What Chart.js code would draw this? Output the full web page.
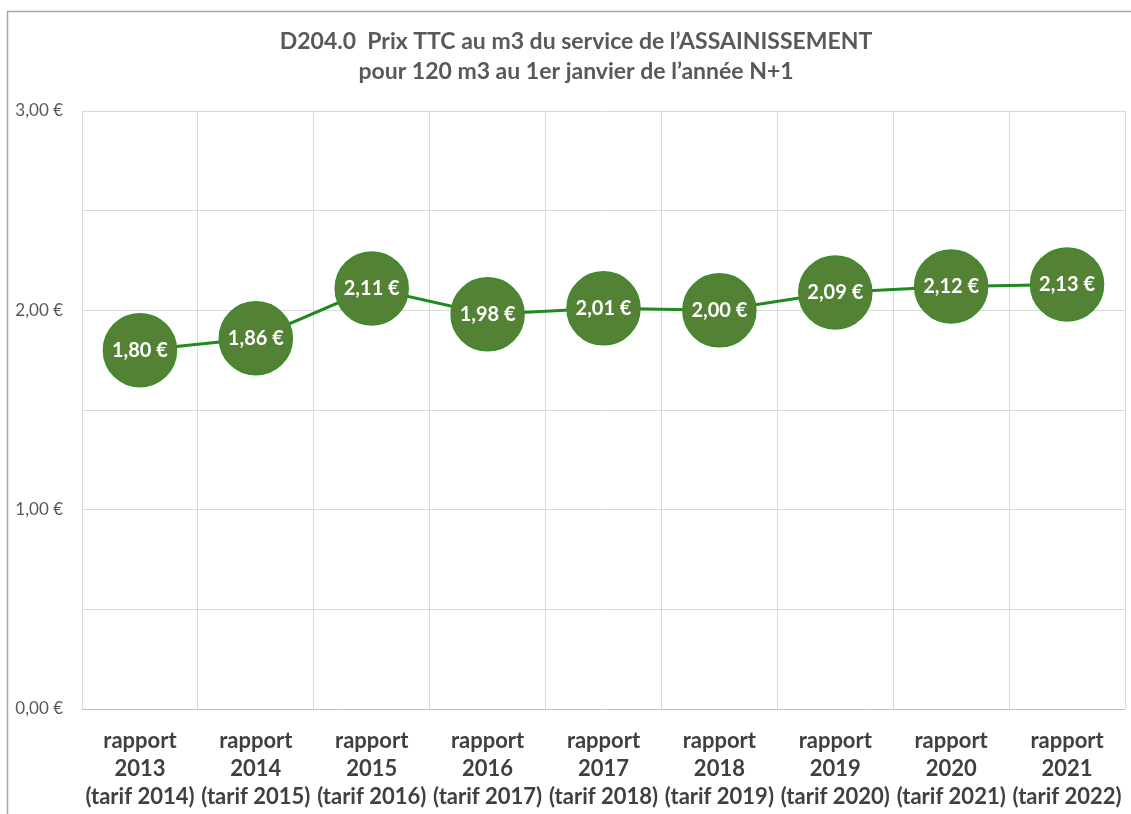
<!DOCTYPE html>
<html lang="fr">
<head>
<meta charset="utf-8">
<script src="https://cdn.jsdelivr.net/npm/chart.js@4.4.1/dist/chart.umd.min.js"></script>
<style>
  html, body { margin: 0; padding: 0; background: #fff; }
  #wrap { position: relative; width: 1131px; height: 814px; }
</style>
</head>
<body>
<div id="wrap"><canvas id="chart"></canvas></div>
<script>
// données
const rapports = ['2013', '2014', '2015', '2016', '2017', '2018', '2019', '2020', '2021'];
const tarifs = ['2014', '2015', '2016', '2017', '2018', '2019', '2020', '2021', '2022'];
const prix = [1.80, 1.86, 2.11, 1.98, 2.01, 2.00, 2.09, 2.12, 2.13];
const titre = ['D204.0  Prix TTC au m3 du service de l\u2019ASSAINISSEMENT', 'pour 120 m3 au 1er janvier de l\u2019ann\u00e9e N+1'];

const labels = rapports.map((r, i) => ['rapport', r, '(tarif ' + tarifs[i] + ')']);
const euro = v => v.toFixed(2).replace('.', ',') + ' \u20ac';

// cadre gris + titre (centré sur le graphique d'origine, plus large que l'image)
const cadre = {
    id: 'cadre',
    beforeDraw(chart) {
        const ctx = chart.ctx;
        ctx.save();
        ctx.strokeStyle = '#a6a6a6';
        ctx.lineWidth = 1.5;
        ctx.beginPath();
        ctx.moveTo(7.5, 814);
        ctx.lineTo(7.5, 11.5);
        ctx.lineTo(1131, 11.5);
        ctx.stroke();
        ctx.fillStyle = '#595959';
        ctx.font = 'bold 23px Lato';
        ctx.textAlign = 'center';
        ctx.textBaseline = 'middle';
        titre.forEach((t, i) => ctx.fillText(t, 576, 42 + i * 30));
        ctx.restore();
    }
};

// étiquettes blanches dans les bulles
const etiquettes = {
    id: 'etiquettes',
    afterDatasetsDraw(chart) {
        const ctx = chart.ctx;
        const meta = chart.getDatasetMeta(0);
        ctx.save();
        ctx.fillStyle = '#ffffff';
        ctx.font = 'bold 20px Lato';
        ctx.textAlign = 'center';
        ctx.textBaseline = 'middle';
        meta.data.forEach((pt, i) => {
            ctx.fillText(euro(prix[i]), pt.x, pt.y);
        });
        ctx.restore();
    }
};

new Chart(document.getElementById('chart'), {
    type: 'line',
    data: {
        labels,
        datasets: [{
            data: prix,
            borderColor: '#1f8a1f',
            borderWidth: 3,
            pointRadius: 36.5,
            pointHoverRadius: 36.5,
            pointBackgroundColor: '#548235',
            pointBorderColor: '#3a8c2a',
            pointBorderWidth: 1.5,
            tension: 0
        }]
    },
    options: {
        responsive: true,
        maintainAspectRatio: false,
        animation: false,
        layout: { autoPadding: false, padding: { left: 0, right: 6, top: 111, bottom: 0 } },
        plugins: {
            legend: { display: false },
            tooltip: { enabled: false },
            title: { display: false }
        },
        scales: {
            x: {
                offset: true,
                grid: { offset: true, color: '#d9d9d9', drawTicks: false },
                border: { display: false },
                ticks: {
                    color: '#404040',
                    font: { family: 'Lato', size: 22, weight: 'bold', lineHeight: 1.27 },
                    padding: 18,
                    maxRotation: 0,
                    autoSkip: false
                },
                afterFit: s => {
                    s.height = 105;
                    s.paddingLeft = 0;
                    s.paddingRight = 0;
                }
            },
            y: {
                min: 0,
                max: 3,
                grid: {
                    color: c => (c.tick && c.tick.value === 0 ? '#bfbfbf' : '#d9d9d9'),
                    drawTicks: false
                },
                border: { display: false },
                ticks: {
                    stepSize: 0.5,
                    autoSkip: false,
                    color: '#595959',
                    font: { family: 'Lato', size: 17 },
                    padding: 19,
                    callback: v => (v % 1 === 0 ? euro(v) : '')
                },
                afterFit: s => {
                    s.width = 82;
                    s.paddingTop = 0;
                    s.paddingBottom = 0;
                }
            }
        }
    },
    plugins: [cadre, etiquettes]
});
</script>
</body>
</html>
